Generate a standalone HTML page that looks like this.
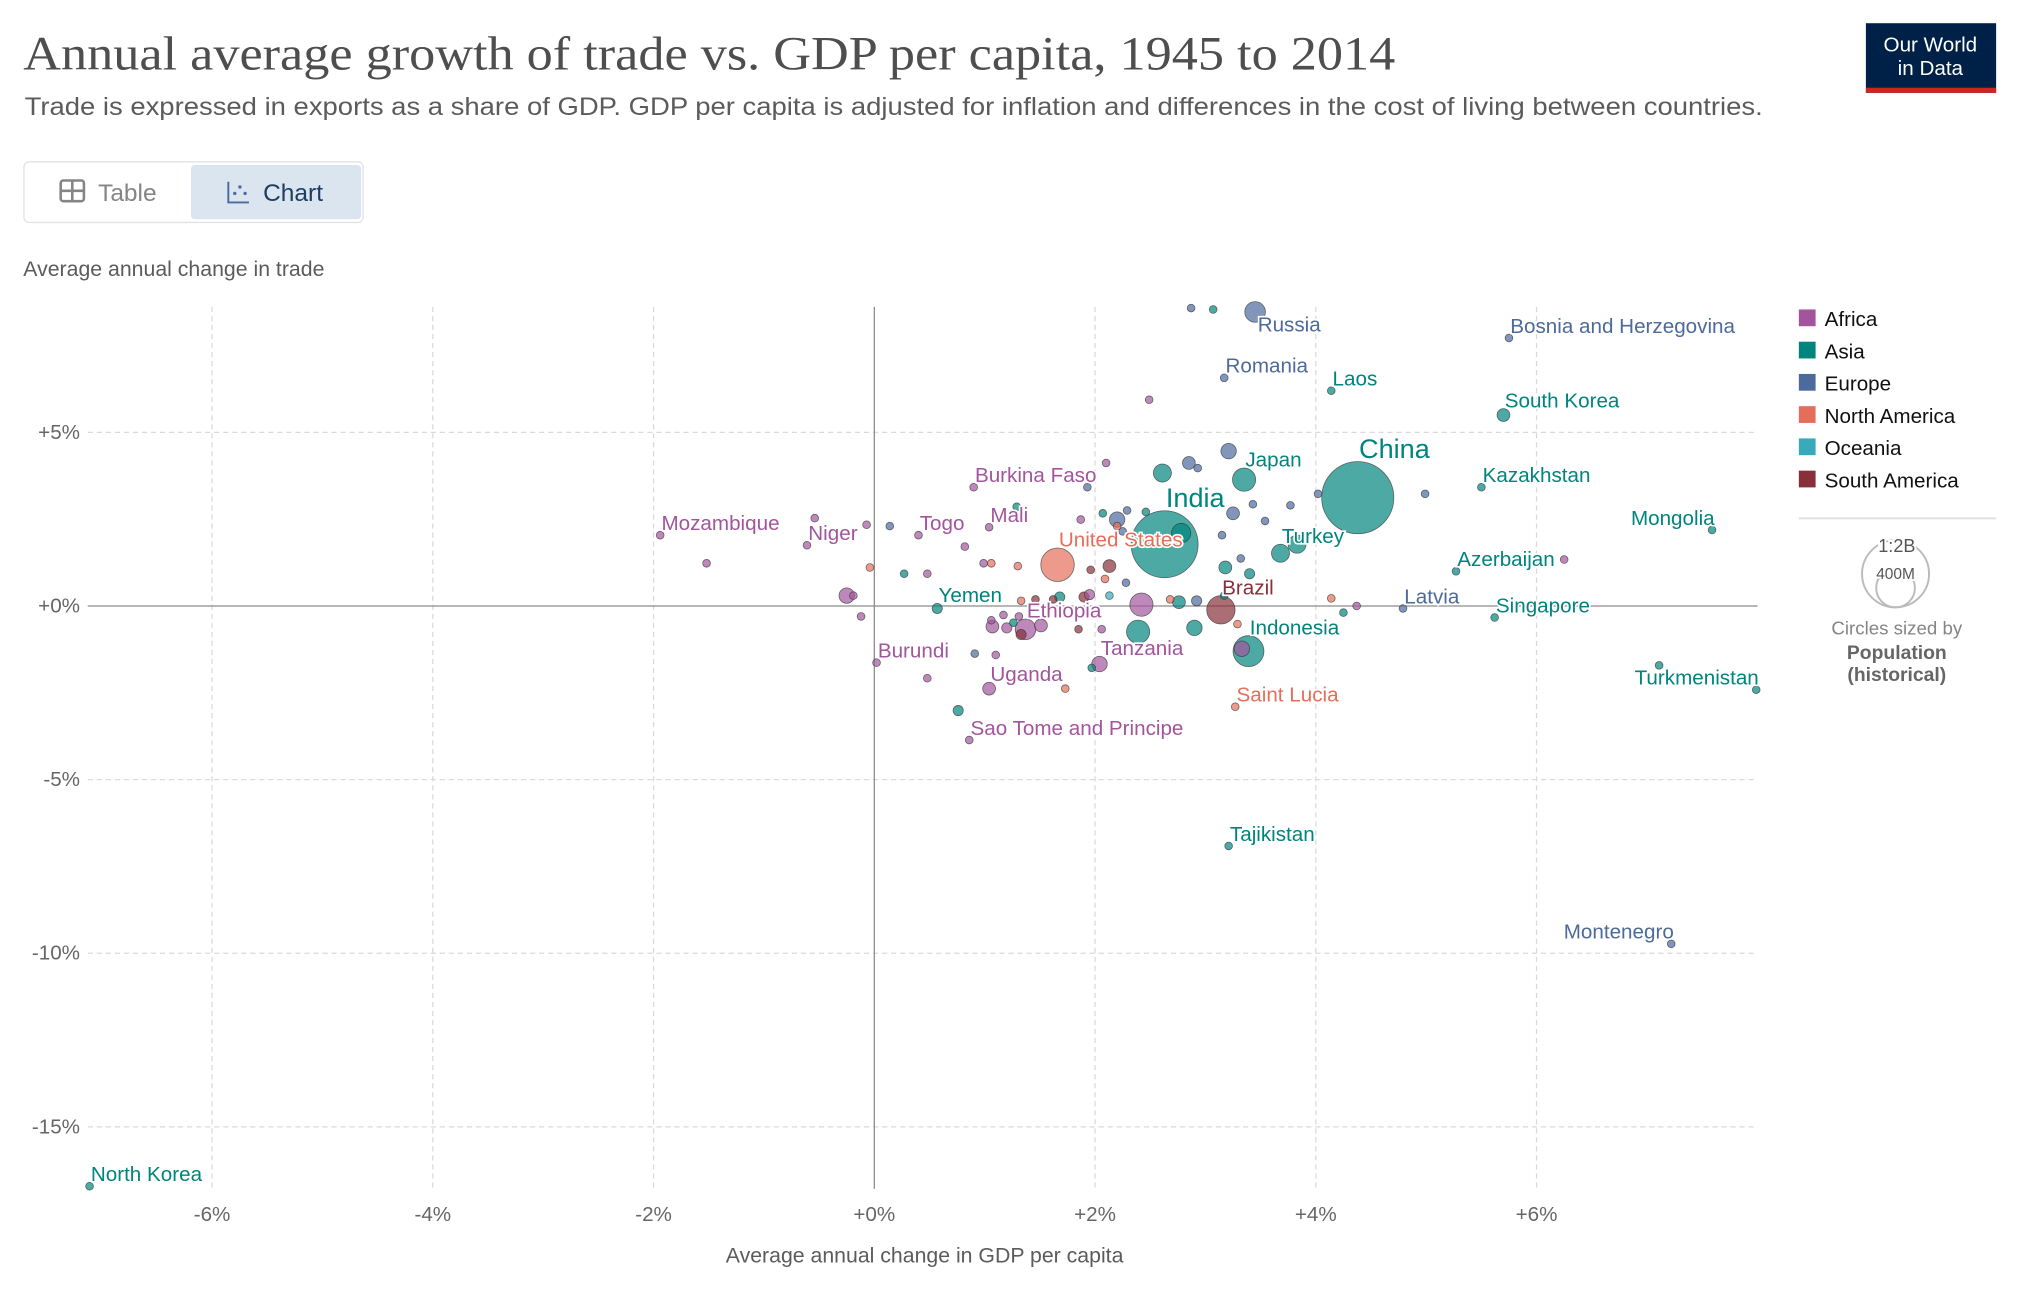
<!DOCTYPE html>
<html><head><meta charset="utf-8"><style>
html,body{margin:0;padding:0;background:#fff;}
svg{display:block;font-family:"Liberation Sans",sans-serif;}
</style></head><body>
<svg id="chart" width="2022" height="1292" viewBox="0 0 1568 1002" xmlns="http://www.w3.org/2000/svg">
<text x="18" y="54" font-family="Liberation Serif, serif" font-size="37" fill="#4e4e4e" textLength="1064" lengthAdjust="spacingAndGlyphs">Annual average growth of trade vs. GDP per capita, 1945 to 2014</text>
<text x="19" y="89" font-size="19.5" fill="#5b5b5b" textLength="1348" lengthAdjust="spacingAndGlyphs">Trade is expressed in exports as a share of GDP. GDP per capita is adjusted for inflation and differences in the cost of living between countries.</text>
<g>
<rect x="1447" y="18" width="101" height="54" fill="#002147"/>
<rect x="1447" y="68" width="101" height="4" fill="#ce261e"/>
<text x="1497" y="40" text-anchor="middle" font-size="16" fill="#fff">Our World</text>
<text x="1497" y="58" text-anchor="middle" font-size="16" fill="#fff">in Data</text>
</g>
<rect x="18.5" y="125.5" width="263" height="47" rx="4" fill="#fff" stroke="#e2e2e2"/>
<g>
<rect x="47" y="140" width="18" height="16" rx="2" fill="none" stroke="#858585" stroke-width="2"/>
<line x1="47" y1="148" x2="65" y2="148" stroke="#858585" stroke-width="2"/><line x1="56" y1="140" x2="56" y2="156" stroke="#858585" stroke-width="2"/>
<text x="76" y="156" font-size="19" fill="#858585">Table</text>
</g>
<g>
<rect x="148" y="128" width="132" height="42" rx="3" fill="#dbe5f0"/>
<path d="M177 141 V157 H193" fill="none" stroke="#4c6a9c" stroke-width="1.5"/>
<circle cx="182" cy="150" r="1.3" fill="#4c6a9c"/><circle cx="186" cy="145" r="1.3" fill="#4c6a9c"/><circle cx="190" cy="150" r="1.3" fill="#4c6a9c"/>
<text x="204" y="156" font-size="19" fill="#1d3d63">Chart</text>
</g>
<text x="18" y="214" font-size="16.5" fill="#5b5b5b">Average annual change in trade</text>
<text x="717" y="979" text-anchor="middle" font-size="16.5" fill="#5b5b5b">Average annual change in GDP per capita</text>
<g id="grid"></g><g id="marks"></g><g id="labels"></g><g id="legend"></g>
</svg>
<script>
const NS="http://www.w3.org/2000/svg";
const xTicks=[-6,-4,-2,0,2,4,6];
const yTicks=[5,0,-5,-10,-15];
const regions=["Africa","Asia","Europe","North America","Oceania","South America"];
const regionColors=["#a2559c","#00847e","#4c6a9c","#e56e5a","#38aaba","#883039"];
const labelColors=["#a2559c","#00847e","#4c6a9c","#e56e5a","#38aaba","#883039"];
// labeled countries
const names=["Russia","Bosnia and Herzegovina","Romania","Laos","South Korea","China","Japan","Kazakhstan","Burkina Faso","India","Mongolia","Mozambique","Niger","Togo","Mali","United States","Turkey","Azerbaijan","Brazil","Latvia","Singapore","Yemen","Ethiopia","Indonesia","Tanzania","Burundi","Uganda","Turkmenistan","Saint Lucia","Sao Tome and Principe","Tajikistan","Montenegro","North Korea"];
const gdpGrowth=[3.45,5.75,3.17,4.14,5.70,4.38,3.35,5.50,0.90,2.63,7.59,-1.94,-0.61,0.40,1.04,1.66,3.68,5.27,3.14,4.79,5.62,0.57,1.37,3.39,2.04,0.02,1.04,7.99,3.27,0.86,3.21,7.22,-7.11];
const tradeGrowth=[8.47,7.72,6.57,6.20,5.50,3.12,3.64,3.42,3.42,1.78,2.19,2.04,1.75,2.04,2.27,1.19,1.52,1.00,-0.11,-0.07,-0.33,-0.07,-0.67,-1.30,-1.67,-1.63,-2.38,-2.41,-2.90,-3.86,-6.91,-9.73,-16.71];
const region=[2,2,2,1,1,1,1,1,0,1,1,0,0,0,0,3,1,1,5,2,1,1,0,1,0,0,0,1,3,0,1,2,1];
const population=[114,16,16,16,44,1390,144,16,16,1200,16,16,16,16,16,300,87,16,215,16,16,28,114,256,64,16,44,16,16,16,16,16,16];
// unlabeled countries
const oGdp=[2.87,3.07,2.49,2.10,2.61,2.85,2.93,3.21,1.93,1.29,2.07,2.20,2.29,2.46,3.25,3.43,3.77,4.02,4.99,3.54,3.15,3.32,3.18,3.40,3.83,2.25,1.87,0.82,0.14,-0.07,-0.54,-1.52,-0.04,0.27,0.48,0.99,1.06,1.30,2.13,1.96,2.09,2.28,2.13,1.68,1.90,1.62,1.95,1.46,-0.25,-0.19,-0.12,1.33,2.42,2.68,2.76,2.92,3.17,4.14,4.37,4.25,1.17,1.31,1.20,1.26,1.06,1.07,1.51,1.85,2.06,2.39,2.90,3.29,3.33,1.97,0.91,1.10,0.48,1.73,0.76,6.25,7.11,1.33,2.20,2.78];
const oTrade=[8.58,8.54,5.94,4.12,3.83,4.12,3.97,4.46,3.42,2.86,2.67,2.49,2.75,2.71,2.67,2.93,2.90,3.23,3.23,2.45,2.04,1.37,1.11,0.93,1.78,2.15,2.49,1.71,2.30,2.34,2.53,1.23,1.11,0.93,0.93,1.23,1.23,1.15,1.15,1.04,0.78,0.67,0.30,0.26,0.26,0.19,0.33,0.19,0.30,0.30,-0.30,0.15,0.04,0.19,0.11,0.15,0.30,0.22,0.00,-0.19,-0.26,-0.30,-0.63,-0.48,-0.41,-0.59,-0.56,-0.67,-0.67,-0.74,-0.63,-0.52,-1.23,-1.78,-1.37,-1.41,-2.08,-2.38,-3.01,1.34,-1.71,-0.82,2.30,2.10];
const oRegion=[2,1,0,0,1,2,2,2,2,1,1,2,2,1,2,2,2,2,2,2,2,2,1,1,1,2,0,0,2,0,0,0,3,1,0,0,3,3,5,5,3,2,4,1,5,5,0,5,0,0,0,3,0,3,1,2,1,3,0,1,0,0,0,1,0,0,0,5,0,1,1,3,0,1,2,0,0,3,1,0,1,5,3,1];
const oPop=[16,16,16,16,87,44,16,64,16,16,16,64,16,16,44,16,16,16,16,16,16,16,44,28,87,16,16,16,16,16,16,16,16,16,16,16,16,16,44,16,16,16,16,28,28,16,28,16,64,16,16,16,144,16,44,28,16,16,16,16,16,16,28,16,16,44,44,16,16,144,64,16,64,16,16,16,16,16,28,16,16,28,16,100];
const legendSizes=[1200,400];

const X0=678, XS=85.6, Y0=470, YS=26.93, PL=68, PR=1363, PT=238, PB=922;
const xs=v=>X0+v*XS, ys=v=>Y0-v*YS, rs=p=>0.75*Math.sqrt(p);
function mk(tag,attrs,parent,text){const e=document.createElementNS(NS,tag);for(const k in attrs)e.setAttribute(k,attrs[k]);if(text!==undefined)e.textContent=text;parent.appendChild(e);return e;}
const grid=document.getElementById('grid'),marks=document.getElementById('marks'),labels=document.getElementById('labels'),legend=document.getElementById('legend');
xTicks.forEach(t=>{
  if(t!==0){const l=mk('line',{x1:xs(t),x2:xs(t),y1:PT,y2:PB,stroke:'#dadada','stroke-dasharray':'4,3'},grid);
  
  }
  const tx=mk('text',{x:xs(t),y:947,'text-anchor':'middle','font-size':16,fill:'#666'},grid,(t>=0?'+':'')+t+'%');
  
  
});
yTicks.forEach(t=>{
  if(t!==0){const l=mk('line',{x1:PL,x2:PR,y1:ys(t),y2:ys(t),stroke:'#dadada','stroke-dasharray':'4,3'},grid);
  
  }
  const tx=mk('text',{x:62,y:ys(t)+5,'text-anchor':'end','font-size':16,fill:'#666'},grid,(t>=0?'+':'')+t+'%');
  
  
});
const zx=mk('line',{x1:xs(0),x2:xs(0),y1:PT,y2:PB,stroke:'#8c8c8c'},grid);


const zy=mk('line',{x1:PL,x2:PR,y1:ys(0),y2:ys(0),stroke:'#8c8c8c'},grid);



const pts=[];
oGdp.forEach((g,i)=>pts.push({x:g,y:oTrade[i],r:oRegion[i],p:oPop[i]}));
names.forEach((n,i)=>pts.push({x:gdpGrowth[i],y:tradeGrowth[i],r:region[i],p:population[i],n:n}));
pts.sort((a,b)=>b.p-a.p);
pts.forEach(d=>{
  const c=mk('circle',{cx:xs(d.x),cy:ys(d.y),r:rs(d.p),fill:regionColors[d.r],'fill-opacity':0.7,stroke:'#333','stroke-width':0.6,'stroke-opacity':0.7},marks);
  
  
});
const endAnchored=["Mongolia","Turkmenistan","Montenegro"];
names.forEach((n,i)=>{
  const big=(n==="China"||n==="India");
  const r=rs(population[i]);
  const end=endAnchored.includes(n);
  let x=xs(gdpGrowth[i])+(end?2:1), y=ys(tradeGrowth[i])-r-1;
  if(n==="Russia"){x=xs(gdpGrowth[i])+2;y=ys(tradeGrowth[i])+15;}
  if(big) y-=2;
  const t=mk('text',{x:x,y:y,'text-anchor':end?'end':'start','font-size':big?21:16,fill:labelColors[region[i]],stroke:'#fff','stroke-width':2.5,'paint-order':'stroke'},labels,n);
  
  
});
regions.forEach((rg,i)=>{
  const g=mk('g',{},legend);
  
  
  mk('rect',{x:1395,y:240+i*25,width:13,height:13,fill:regionColors[i]},g);
  mk('text',{x:1415,y:253+i*25,'font-size':16,fill:'#111'},g,rg);
});
const sep=mk('line',{x1:1395,x2:1548,y1:402,y2:402,stroke:'#e0e0e0','stroke-width':1.5},legend);


const base=471;
legendSizes.forEach((s,i)=>{
  const r=rs(s);
  const c=mk('circle',{cx:1470,cy:base-r,r:r,fill:'none',stroke:'#bbb','stroke-width':1.5},legend);
  
  
});
const l1=mk('text',{x:1471,y:428,'text-anchor':'middle','font-size':14,fill:'#555',stroke:'#fff','stroke-width':3,'paint-order':'stroke'},legend,'1:2B');


const l2=mk('text',{x:1470,y:449,'text-anchor':'middle','font-size':12,fill:'#555',stroke:'#fff','stroke-width':3,'paint-order':'stroke'},legend,'400M');


const c1=mk('text',{x:1471,y:492,'text-anchor':'middle','font-size':14.5,fill:'#858585'},legend,'Circles sized by');


const c2=mk('text',{x:1471,y:511,'text-anchor':'middle','font-size':15,'font-weight':'bold',fill:'#666'},legend,'Population');


const c3=mk('text',{x:1471,y:528,'text-anchor':'middle','font-size':15,'font-weight':'bold',fill:'#666'},legend,'(historical)');


</script>
</body></html>
